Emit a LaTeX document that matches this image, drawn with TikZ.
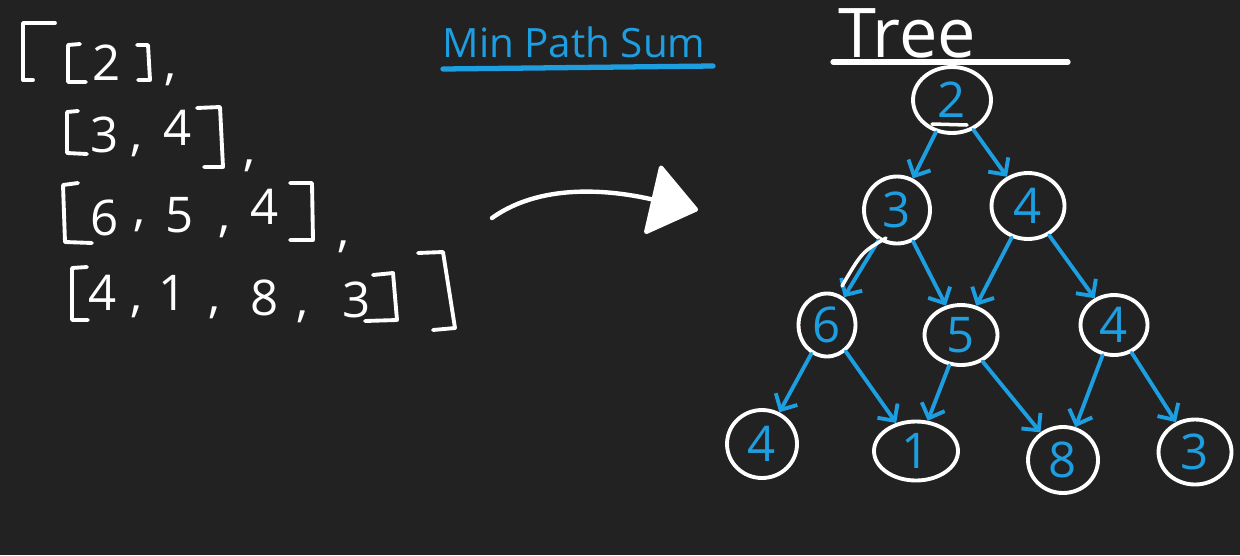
\documentclass[tikz,border=0pt]{standalone}
\usepackage{fontspec}
\setmainfont{Open Sans}
\usetikzlibrary{shapes.geometric, arrows.meta}
\definecolor{board}{RGB}{34,34,34}
\definecolor{penblue}{RGB}{29,158,224}

\begin{document}
\begin{tikzpicture}[x=0.02cm, y=-0.02cm,
    treenode/.style={ellipse, draw=white, line width=2.2pt, text=penblue, inner sep=0pt,
      font=\fontsize{28}{30}\selectfont},
    treeedge/.style={penblue, line width=2.2pt, line cap=round,
      -{Straight Barb[length=7pt,width=14pt]}},
    digit/.style={text=white, inner sep=0pt, font=\fontsize{28}{30}\selectfont},
    bracket/.style={white, line width=2.2pt, line cap=round, line join=round}]

    % 1. Board and frame
    \fill[board] (0,0) rectangle (1240,555);
    \useasboundingbox (0,0) rectangle (1240,555);

    % 2. The triangle as nested lists
    % Brackets
    \draw[bracket] (55,23) -- (23,23) -- (23,80) -- (33,80);      % outer [
    \draw[bracket] (80,44) -- (68,45) -- (68,82) -- (86,82);
    \draw[bracket] (137,45) -- (148,45) -- (150,80) -- (138,80);
    \draw[bracket] (78,111) -- (67,112) -- (67,153) -- (87,154);
    \draw[bracket] (197,108) -- (220,107) -- (223,167) -- (204,167);
    \draw[bracket] (78,183) -- (63,185) -- (65,242) -- (92,243);
    \draw[bracket] (290,183) -- (312,183) -- (313,240) -- (290,240);
    \draw[bracket] (87,267) -- (72,268) -- (72,320) -- (88,320);
    \draw[bracket] (373,275) -- (393,273) -- (397,320) -- (365,321);
    \draw[bracket] (418,253) -- (443,252) -- (455,328) -- (433,330); % outer ]

    % Numbers and commas
    \foreach \x/\y/\t [count=\i] in {107/63/2, 171/80/{,},
        105/135/3, 137/151/{,}, 178/128/4, 250/166/{,},
        105/218/6, 140/226/{,}, 180/215/5, 225/232/{,}, 265/207/4, 344/247/{,},
        103/293/4, 137/312/{,}, 173/293/1, 215/313/{,}, 265/298/8, 303/317/{,}, 357/300/3}
        \node[digit] (m\i) at (\x,\y) {\t};

    % 3. Title
    \node[text=penblue, inner sep=0pt, font=\fontsize{23}{25}\selectfont] (title) at (574,42) {Min Path Sum};
    \draw[penblue, line width=3pt, line cap=round] (443,69) -- (713,66);

    % 4. Arrow from the lists to the tree
    \coordinate (arrS) at (492,218);
    \coordinate (arrE) at (698,210);
    \draw[white, line width=2.5pt, line cap=round,
          -{Triangle[length=28pt,width=42pt,round]}]
        (arrS) .. controls (545,180) and (620,192) .. (arrE);

    % 5. Tree
    \node[font=\fontsize{39}{41}\selectfont, text=white, inner sep=0pt] (treehead) at (907,33) {Tree};
    \draw[white, line width=3pt, line cap=round] (833,62) -- (1068,62);

    \node[treenode, minimum width=1.56cm, minimum height=1.32cm] (n2)  at (952,100) {2};
    \node[treenode, minimum width=1.32cm, minimum height=1.34cm] (n3)  at (897,210) {3};
    \node[treenode, minimum width=1.46cm, minimum height=1.32cm] (n4a) at (1028,206) {4};
    \node[treenode, minimum width=1.14cm, minimum height=1.26cm] (n6)  at (827,325) {6};
    \node[treenode, minimum width=1.46cm, minimum height=1.20cm] (n5)  at (961,335) {5};
    \node[treenode, minimum width=1.34cm, minimum height=1.20cm] (n4b) at (1114,325) {4};
    \node[treenode, minimum width=1.40cm, minimum height=1.36cm] (n4c) at (762,444) {4};
    \node[treenode, minimum width=1.68cm, minimum height=1.18cm] (n1)  at (916,451) {1};
    \node[treenode, minimum width=1.40cm, minimum height=1.32cm] (n8)  at (1063,460) {8};
    \node[treenode, minimum width=1.46cm, minimum height=1.30cm] (n3b) at (1195,452) {3};

    % small mark under the root value
    \draw[white, line width=2pt, line cap=round] (932,124) -- (967,125);

    % Edges
    \draw[treeedge] (n2) -- (n3);
    \draw[treeedge] (n2) -- (n4a);
    \draw[treeedge] (n3) -- (n6);
    \draw[treeedge] (n3) -- (n5);
    \draw[treeedge] (n4a) -- (n5);
    \draw[treeedge] (n4a) -- (n4b);
    \draw[treeedge] (n6) -- (n4c);
    \draw[treeedge] (n6) -- (n1);
    \draw[treeedge] (n5) -- (n1);
    \draw[treeedge] (n5) -- (n8);
    \draw[treeedge] (n4b) -- (n8);
    \draw[treeedge] (n4b) -- (n3b);

    % stray white stroke over the edge 3 -> 6
    \draw[white, line width=2pt, line cap=round] (886,238) .. controls (862,252) .. (842,286);

\end{tikzpicture}
\end{document}
